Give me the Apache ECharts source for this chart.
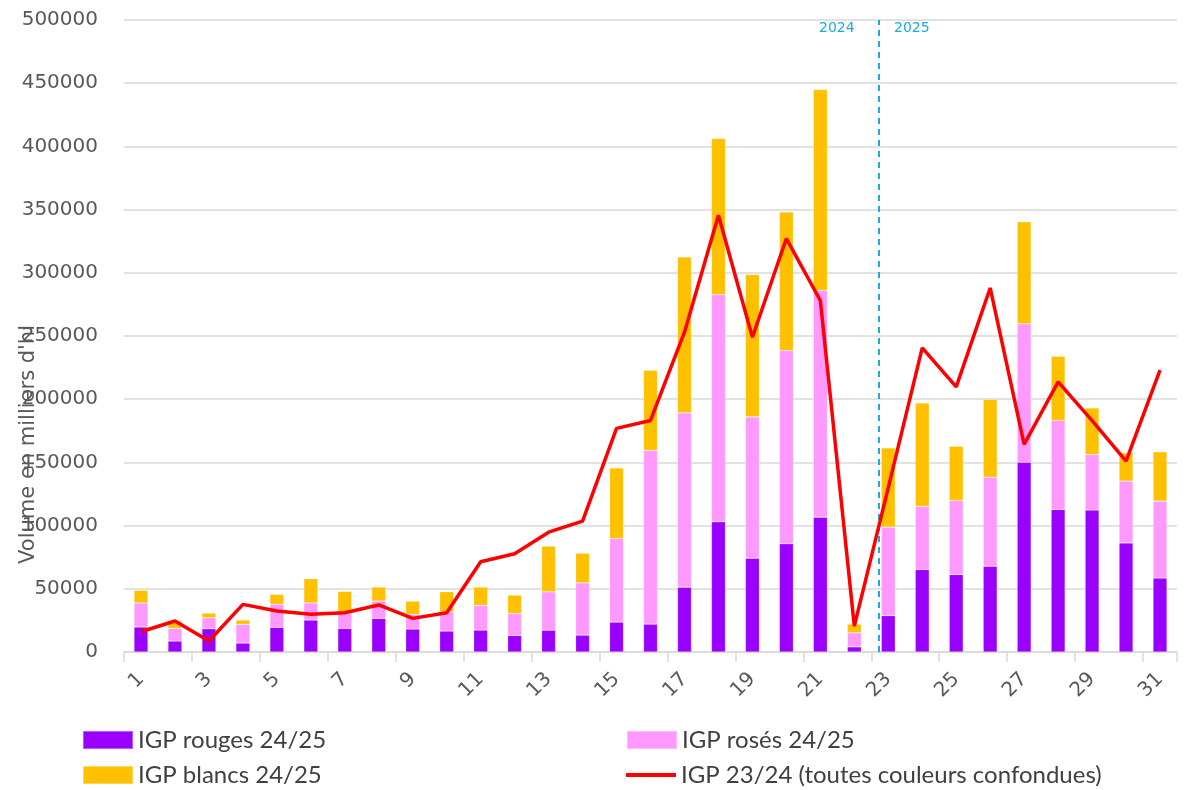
<!DOCTYPE html>
<html>
<head>
<meta charset="utf-8">
<title>IGP volumes</title>
<script src="https://cdn.jsdelivr.net/npm/echarts@6/dist/echarts.min.js"></script>
<style>
  html, body { margin: 0; padding: 0; background: #fff; }
  #chart { width: 1186px; height: 790px; }
</style>
</head>
<body>
<div id="chart"></div>
<script>
// semaines 1..31
const categories = Array.from({length: 31}, (_, i) => String(i + 1));

const rouges = [19800, 8700, 18400, 7100, 19500, 25300, 18700, 26600, 18200, 16600,
  17400, 13100, 17300, 13400, 23700, 22100, 51300, 103000, 74300, 85600,
  106700, 4100, 28800, 65300, 61400, 67900, 150100, 112800, 112300, 86300, 58500];

const roses = [19000, 10000, 8700, 14800, 18200, 13500, 11600, 13700, 11600, 15000,
  19500, 17400, 30300, 41300, 66100, 137400, 137900, 179800, 111700, 152900,
  179500, 11100, 70000, 49900, 58400, 70400, 109600, 70400, 43900, 48900, 60900];

const blancs = [10000, 5800, 3700, 3400, 7900, 19200, 17700, 11100, 10500, 16100,
  14500, 14500, 36200, 23500, 55900, 63500, 123400, 123400, 112600, 109700,
  158800, 6900, 62600, 81800, 43000, 61500, 80700, 50800, 36900, 22400, 39000];

const igp2324 = [16000, 24500, 8700, 37700, 32400, 29800, 31100, 37200, 26600, 31100,
  71400, 77700, 94800, 103500, 176900, 183200, 253000, 345600, 249000, 327100,
  278100, 20500, 130000, 240600, 209700, 288000, 164200, 213700, 183000, 151000, 223000];

// séparation 2024 / 2025 (entre la semaine 22 et 23)
const yearBreak = 21.72;

const grey = '#595959';
const blue = '#1aabe6';
const chart = echarts.init(document.getElementById('chart'));

const barBase = {
  type: 'bar',
  stack: 'total',
  barWidth: 14,
  itemStyle: { borderColor: 'rgba(255,255,255,0.35)', borderWidth: 0.6 }
};

const legendText = { fontFamily: 'Lato', fontSize: 24, color: '#404040', lineHeight: 26 };
function legendAt(left, top, name, extra) {
  return Object.assign({
    left: left, top: top, padding: 0, icon: 'rect',
    itemWidth: 50, itemHeight: 18, itemGap: 5,
    textStyle: legendText, data: [name]
  }, extra || {});
}

chart.setOption({
  animation: false,
  grid: { left: 124, right: 9, top: 20, bottom: 138 },
  legend: [
    legendAt(82, 727, 'IGP rouges 24/25'),
    legendAt(82, 762, 'IGP blancs 24/25'),
    legendAt(626, 727, 'IGP rosés 24/25'),
    legendAt(626, 762, 'IGP 23/24 (toutes couleurs confondues)', { itemHeight: 4 })
  ],
  xAxis: [
    {
      type: 'category',
      data: categories,
      axisLine: { lineStyle: { color: '#d9d9d9', width: 1.5 } },
      axisTick: { show: true, length: 10, lineStyle: { color: '#d9d9d9', width: 1.5 } },
      axisLabel: {
        interval: 1, rotate: 45, margin: 24,
        fontFamily: 'DejaVu Sans', fontSize: 20, color: grey
      }
    },
    {
      type: 'value', min: -0.5, max: 30.5, show: false
    }
  ],
  yAxis: {
    type: 'value',
    min: 0, max: 500000, interval: 50000,
    axisLine: { show: false },
    axisTick: { show: false },
    splitLine: { lineStyle: { color: '#d9d9d9', width: 1.5 } },
    axisLabel: {
      margin: 26, fontFamily: 'DejaVu Sans', fontSize: 20, color: grey,
      formatter: v => String(v)
    }
  },
  graphic: [
    {
      type: 'text', left: 18, top: 325, rotation: Math.PI / 2,
      style: { text: "Volume en milliers d'hl", font: '21px "DejaVu Sans"', fill: grey }
    },
    {
      type: 'text', left: 819, top: 21,
      style: { text: '2024', font: '14px "DejaVu Sans"', fill: blue }
    },
    {
      type: 'text', left: 894, top: 21,
      style: { text: '2025', font: '14px "DejaVu Sans"', fill: blue }
    }
  ],
  series: [
    Object.assign({}, barBase, {
      name: 'IGP rouges 24/25', data: rouges,
      itemStyle: Object.assign({}, barBase.itemStyle, { color: '#9900ff' })
    }),
    Object.assign({}, barBase, {
      name: 'IGP rosés 24/25', data: roses,
      itemStyle: Object.assign({}, barBase.itemStyle, { color: '#ff99ff' })
    }),
    Object.assign({}, barBase, {
      name: 'IGP blancs 24/25', data: blancs,
      itemStyle: Object.assign({}, barBase.itemStyle, { color: '#ffc000' })
    }),
    {
      name: 'IGP 23/24 (toutes couleurs confondues)',
      type: 'line',
      data: igp2324,
      symbol: 'none',
      lineStyle: { color: '#ff0000', width: 3.5 },
      itemStyle: { color: '#ff0000' },
      z: 5
    },
    {
      name: 'séparation',
      type: 'line',
      xAxisIndex: 1,
      data: [],
      markLine: {
        silent: true, symbol: 'none', label: { show: false },
        lineStyle: { color: blue, type: [6, 5], width: 2 },
        data: [{ xAxis: yearBreak }]
      }
    }
  ]
});
</script>
</body>
</html>
